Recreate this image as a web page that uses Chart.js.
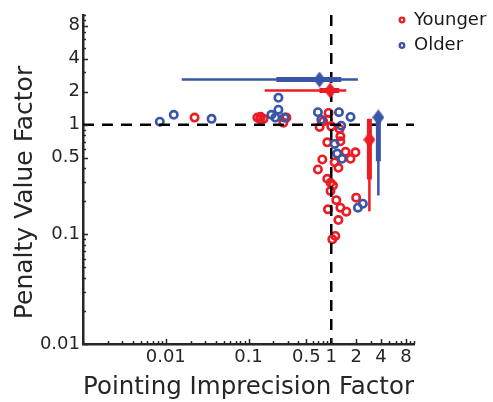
<!DOCTYPE html>
<html>
<head>
<meta charset="utf-8">
<script src="https://cdn.jsdelivr.net/npm/chart.js@4.4.1/dist/chart.umd.min.js"></script>
<style>
  html, body { margin: 0; padding: 0; background: #fff; }
  canvas { display: block; }
</style>
</head>
<body>
<canvas id="chart" width="493" height="402"></canvas>
<script>
// Younger / Older individual points (pointing imprecision factor, penalty value factor)
const youngerX = [0.0223, 0.128, 0.140, 0.152, 0.138, 0.264, 0.287, 0.928, 0.912, 0.80, 0.723, 1.0, 1.26, 1.29, 1.29,
  0.895, 1.49, 1.96, 1.71, 1.10, 0.78, 1.22, 0.69, 0.895, 0.98, 1.05, 0.98, 1.15, 2.0, 0.912, 1.29, 1.52, 1.22, 1.12, 1.03];
const youngerY = [1.16, 1.16, 1.18, 1.13, 1.12, 1.04, 1.16, 1.28, 1.11, 1.07, 0.953, 0.965, 0.914, 0.783, 0.705,
  0.69, 0.565, 0.56, 0.488, 0.454, 0.481, 0.404, 0.39, 0.321, 0.295, 0.279, 0.248, 0.205, 0.216, 0.169, 0.175, 0.161, 0.135, 0.0966, 0.090];

const olderX = [0.00847, 0.0125, 0.0358, 0.189, 0.23, 0.23, 0.211, 0.272, 0.69, 1.24, 1.71, 0.758, 1.32, 1.10, 1.18, 1.35, 2.41, 2.10];
const olderY = [1.065, 1.23, 1.13, 1.23, 1.76, 1.37, 1.16, 1.16, 1.30, 1.30, 1.175, 1.11, 0.979, 0.668, 0.545, 0.488, 0.19, 0.175];

// group summaries: [Younger, Older]
const groupNames = ['Younger', 'Older'];
// pointing imprecision summary, drawn as a horizontal row at pifRowY
const pifMedian = [0.97, 0.72];
const pifIqrLow = [0.72, 0.217];
const pifIqrHigh = [1.25, 1.32];
const pifRangeLow = [0.157, 0.0156];
const pifRangeHigh = [1.52, 2.1];
const pifRowY = [2.05, 2.58];
// penalty value summary, drawn as a vertical column at pvfColX
const pvfMedian = [0.73, 1.165];
const pvfIqrLow = [0.316, 0.464];
const pvfIqrHigh = [1.13, 1.2];
const pvfRangeLow = [0.162, 0.226];
const pvfRangeHigh = [1.13, 1.2];
const pvfColX = [2.89, 3.71];

// axis ticks
const xTickLabels = [0.01, 0.1, 0.5, 1, 2, 4, 8];
const yTickLabels = [0.01, 0.1, 0.5, 1, 2, 4, 8];
const xDecades = [0.001, 0.01, 0.1, 1];
const yDecades = [0.01, 0.1, 1];

const RED = '#ec1c24';
const BLUE = '#3a55a6';
const INK = '#262626';
const FONT = "'DejaVu Sans', sans-serif";

const groupColors = [RED, BLUE];

function allTicks(decades) {
  const out = [];
  decades.forEach(d => {
    for (let m = 1; m <= 9; m++) out.push(+(m * d).toPrecision(3));
  });
  out.push(10);
  return out;
}

function isLabel(v, labels) {
  return labels.some(l => Math.abs(l - v) / l < 1e-6);
}

function makeDiamond(color) {
  const c = document.createElement('canvas');
  c.width = 12;
  c.height = 16;
  const g = c.getContext('2d');
  g.fillStyle = color;
  g.beginPath();
  g.moveTo(6, 0);
  g.lineTo(12, 8);
  g.lineTo(6, 16);
  g.lineTo(0, 8);
  g.closePath();
  g.fill();
  return c;
}

function seg(p0, p1, color, width, order, dash) {
  return {
    data: [p0, p1],
    showLine: true,
    borderColor: color,
    borderWidth: width,
    borderDash: dash || [],
    pointRadius: 0,
    order
  };
}

const datasets = [];

// open circles
datasets.push({
  label: 'Older',
  data: olderX.map((x, i) => ({ x, y: olderY[i] })),
  pointStyle: 'circle',
  pointRadius: 3.7,
  pointBorderWidth: 2.6,
  pointBorderColor: BLUE,
  pointBackgroundColor: 'rgba(0,0,0,0)',
  order: 4
});
datasets.push({
  label: 'Younger',
  data: youngerX.map((x, i) => ({ x, y: youngerY[i] })),
  pointStyle: 'circle',
  pointRadius: 3.7,
  pointBorderWidth: 2.6,
  pointBorderColor: RED,
  pointBackgroundColor: 'rgba(0,0,0,0)',
  order: 5
});

// dashed reference lines at 1
datasets.push(seg({ x: 1, y: 10 }, { x: 1, y: 0.01 }, '#000', 2.5, 3, [11, 8]));
datasets.push(seg({ x: 0.001, y: 1 }, { x: 10, y: 1 }, '#000', 2.5, 3, [11, 8]));

// summaries
groupNames.forEach((name, g) => {
  const c = groupColors[g];
  datasets.push(seg({ x: pifRangeLow[g], y: pifRowY[g] }, { x: pifRangeHigh[g], y: pifRowY[g] }, c, 2.5, 2));
  datasets.push(seg({ x: pifIqrLow[g], y: pifRowY[g] }, { x: pifIqrHigh[g], y: pifRowY[g] }, c, 5, 1));
  datasets.push(seg({ x: pvfColX[g], y: pvfRangeLow[g] }, { x: pvfColX[g], y: pvfRangeHigh[g] }, c, 2.5, 2));
  datasets.push(seg({ x: pvfColX[g], y: pvfIqrLow[g] }, { x: pvfColX[g], y: pvfIqrHigh[g] }, c, 5, 1));
  datasets.push({
    label: name + ' median',
    data: [{ x: pifMedian[g], y: pifRowY[g] }, { x: pvfColX[g], y: pvfMedian[g] }],
    pointStyle: makeDiamond(c),
    pointRadius: 8,
    order: 0
  });
});

// inward tick marks, y title and legend
const decorPlugin = {
  id: 'decor',
  afterDraw(chart) {
    const ctx = chart.ctx;
    const area = chart.chartArea;
    const xs = chart.scales.x;
    const ys = chart.scales.y;
    ctx.save();
    ctx.strokeStyle = INK;
    ctx.lineWidth = 1.5;
    ctx.beginPath();
    xs.ticks.forEach(t => {
      const px = Math.round(xs.getPixelForValue(t.value)) + 0.5;
      const len = isLabel(t.value, xTickLabels) ? 5 : 3;
      ctx.moveTo(px, area.bottom);
      ctx.lineTo(px, area.bottom - len);
    });
    ys.ticks.forEach(t => {
      const py = Math.round(ys.getPixelForValue(t.value)) + 0.5;
      const len = isLabel(t.value, yTickLabels) ? 5 : 3;
      ctx.moveTo(area.left, py);
      ctx.lineTo(area.left + len, py);
    });
    ctx.stroke();

    // y axis title
    ctx.save();
    ctx.translate(31.5, 192.5);
    ctx.rotate(-Math.PI / 2);
    ctx.fillStyle = INK;
    ctx.font = '25px ' + FONT;
    ctx.textAlign = 'center';
    ctx.textBaseline = 'alphabetic';
    ctx.fillText('Penalty Value Factor', 0, 0);
    ctx.restore();

    // legend
    const items = [['Younger', RED, 20], ['Older', BLUE, 45.5]];
    ctx.font = '18px ' + FONT;
    ctx.textAlign = 'left';
    ctx.textBaseline = 'middle';
    items.forEach(([text, color, y]) => {
      ctx.beginPath();
      ctx.arc(402, y, 2.3, 0, Math.PI * 2);
      ctx.strokeStyle = color;
      ctx.lineWidth = 2.3;
      ctx.stroke();
      ctx.fillStyle = '#1a1a1a';
      ctx.fillText(text, 414, y);
    });
    ctx.restore();
  }
};

const xTickValues = allTicks(xDecades);
const yTickValues = allTicks(yDecades);

new Chart(document.getElementById('chart'), {
  type: 'scatter',
  data: { datasets },
  options: {
    responsive: false,
    animation: false,
    events: [],
    layout: { padding: { top: 15, right: 79, bottom: 0, left: 0 } },
    plugins: {
      legend: { display: false },
      tooltip: { enabled: false }
    },
    scales: {
      x: {
        type: 'logarithmic',
        min: 0.001,
        max: 10,
        afterBuildTicks: s => { s.ticks = xTickValues.map(v => ({ value: v })); },
        afterFit: s => { s.height = 58; },
        grid: { display: false, drawTicks: false },
        border: { display: true, color: INK, width: 2.5 },
        ticks: {
          autoSkip: false,
          maxRotation: 0,
          padding: 3,
          color: INK,
          font: { family: FONT, size: 18 },
          callback: v => isLabel(v, xTickLabels) ? String(v) : ''
        },
        title: {
          display: true,
          text: 'Pointing Imprecision Factor',
          color: INK,
          font: { family: FONT, size: 25 },
          padding: { top: 0, bottom: 0 }
        }
      },
      y: {
        type: 'logarithmic',
        min: 0.01,
        max: 10,
        afterBuildTicks: s => { s.ticks = yTickValues.map(v => ({ value: v })); },
        afterFit: s => { s.width = 83; },
        grid: { display: false, drawTicks: false },
        border: { display: true, color: INK, width: 2.5 },
        ticks: {
          autoSkip: false,
          padding: 3,
          color: INK,
          font: { family: FONT, size: 18 },
          callback: v => isLabel(v, yTickLabels) ? String(v) : ''
        }
      }
    }
  },
  plugins: [decorPlugin]
});
</script>
</body>
</html>
